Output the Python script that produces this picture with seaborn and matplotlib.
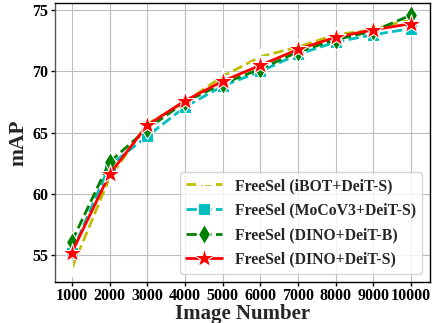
import matplotlib
matplotlib.use("Agg")
import matplotlib.pyplot as plt
import seaborn as sns
import pandas as pd

image_numbers = [1000, 2000, 3000, 4000, 5000, 6000, 7000, 8000, 9000, 10000]
ibot_deit_s = [53.9, 61.3, 65.7, 67.5, 69.6, 71.2, 72.0, 73.0, 73.4, 74.3]
mocov3_deit_s = [55.2, 62.3, 64.7, 67.1, 68.8, 70.0, 71.4, 72.4, 73.0, 73.5]
dino_deit_b = [56.1, 62.6, 65.3, 67.5, 69.0, 70.2, 71.6, 72.6, 73.3, 74.6]
dino_deit_s = [55.2, 61.6, 65.6, 67.6, 69.2, 70.5, 71.8, 72.8, 73.4, 73.9]

labels = ["FreeSel (iBOT+DeiT-S)", "FreeSel (MoCoV3+DeiT-S)",
          "FreeSel (DINO+DeiT-B)", "FreeSel (DINO+DeiT-S)"]
series = [ibot_deit_s, mocov3_deit_s, dino_deit_b, dino_deit_s]

sns.set_style("whitegrid", {"axes.edgecolor": "black", "grid.color": "#bdbdbd",
                            "xtick.bottom": True, "ytick.left": True})
plt.rcParams["font.family"] = ["Liberation Serif", "DejaVu Serif"]
plt.rcParams["font.weight"] = "bold"

fig = plt.figure(figsize=(4.32, 3.23), dpi=100)
ax = fig.add_axes([0.127, 0.127, 0.868, 0.864])

styles = [
    dict(color="y", marker="+", linestyle="--", markersize=12, mew=1.5),
    dict(color="c", marker="s", linestyle="--", markersize=9),
    dict(color="g", marker="d", linestyle="--", markersize=10),
    dict(color="r", marker="*", linestyle="-", markersize=15),
]
for lab, vals, st in zip(labels, series, styles):
    df = pd.DataFrame({"x": image_numbers, "y": vals})
    sns.lineplot(data=df, x="x", y="y", ax=ax, label=lab, linewidth=2, **st)

ax.set_xlim(550, 10500)
ax.set_ylim(52.8, 75.6)
ax.set_xticks(image_numbers)
ax.set_yticks([55, 60, 65, 70, 75])
ax.tick_params(axis="both", labelsize=11.5, length=3, width=1, colors="black", pad=1.5)
for lbl in ax.get_xticklabels() + ax.get_yticklabels():
    lbl.set_fontweight("bold")
ax.set_xlabel("Image Number", fontsize=15, fontweight="bold", labelpad=0)
ax.set_ylabel("mAP", fontsize=15.5, fontweight="bold", labelpad=3)
for s in ax.spines.values():
    s.set_color("black")
    s.set_linewidth(1)
ax.spines["left"].set_color("#555555")

leg = ax.legend(loc="lower right", prop={"weight": "bold", "size": 11.3},
                frameon=True, handlelength=2.3, borderpad=0.4, labelspacing=0.55,
                handletextpad=0.8)
leg.get_frame().set_edgecolor("#cccccc")

fig.savefig("out.png", dpi=100)
